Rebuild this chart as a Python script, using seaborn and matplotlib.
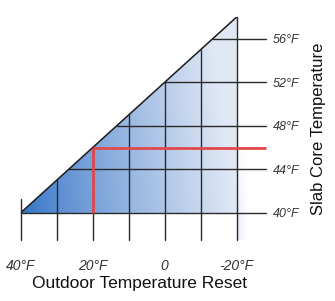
import numpy as np
import matplotlib
matplotlib.use("Agg")
import matplotlib.pyplot as plt
from matplotlib.patches import Polygon
import seaborn as sns
import pandas as pd

sns.set_theme(style="white")
plt.rcParams['font.family'] = ['Liberation Sans', 'DejaVu Sans']

# ---- data ----
outdoor_line = [40, -20]          # outdoor temperature (°F) endpoints of reset line
slab_line = [40, 58]              # slab core temperature (°F) endpoints
grid_outdoor = [40, 30, 20, 10, 0, -10, -20]
grid_slab = [40, 44, 48, 52, 56]
x_tick_vals = [40, 20, 0, -20]
x_tick_labels = ["40°F", "20°F", "0", "-20°F"]
y_tick_vals = [40, 44, 48, 52, 56]
y_tick_labels = ["40°F", "44°F", "48°F", "52°F", "56°F"]
design_outdoor = 20
design_slab = 46

W, H = 335, 301
fig = plt.figure(figsize=(W / 100, H / 100), dpi=100)
ax = fig.add_axes([20.7 / W, (H - 240) / H, (265.5 - 20.7) / W, (240 - 17) / H])
ax.set_xlim(40, -28)
ax.set_ylim(37.5, 58)
xmax_lim = -28
y_bottom = 37.5

def slab_at(x):
    return np.interp(x, outdoor_line[::-1], slab_line[::-1])

def outdoor_at(y):
    return np.interp(y, slab_line, outdoor_line)

# gradient fill clipped to the triangle
nx, ny = 300, 100
t = np.linspace(0, 1, nx)[None, :]
s = np.linspace(0, 1, ny)[:, None]
c0 = np.array([0.20, 0.45, 0.78])
c1 = np.array([0.88, 0.91, 0.96])
tt = np.clip(t ** 0.85 + 0.10 * s, 0, 1)
img = c0[None, None, :] * (1 - tt[..., None]) + c1[None, None, :] * tt[..., None]
tri = Polygon([(outdoor_line[0], slab_line[0]), (outdoor_line[1], slab_line[0]),
               (outdoor_line[1], slab_line[1])], closed=True, facecolor='none',
              edgecolor='none', transform=ax.transData)
ax.add_patch(tri)
im = ax.imshow(img, extent=[outdoor_line[0], outdoor_line[1], slab_line[0], slab_line[1]],
               origin='lower', aspect='auto', interpolation='bilinear', zorder=1)
im.set_clip_path(tri)

# soft drop shadow to the right of the -20 line
sx = np.linspace(0, 1, 60)[None, :]
sy = np.linspace(0, 1, 60)[:, None]
alpha = np.clip((1 - sx) ** 1.5 * np.clip(1.3 - sy, 0, 1) * 0.45, 0, 1)
shadow = np.zeros((60, 60, 4))
shadow[..., 0] = 0.78
shadow[..., 1] = 0.82
shadow[..., 2] = 0.95
shadow[..., 3] = alpha
ax.imshow(shadow, extent=[outdoor_line[1], outdoor_line[1] - 3.5, y_bottom, design_slab - 0.5],
          origin='lower', aspect='auto', interpolation='bilinear', zorder=0.5)

grid_kw = dict(color='#2a2a2a', linewidth=1.0, zorder=3, clip_on=False)
# vertical grid lines
for x in grid_outdoor:
    top = slab_at(x)
    if x == outdoor_line[0]:
        top = top + 1.3
    ax.plot([x, x], [y_bottom, top], **grid_kw)
# horizontal grid lines
for y in grid_slab:
    ax.plot([outdoor_at(y), xmax_lim], [y, y], **grid_kw)

# reset line (hypotenuse)
df = pd.DataFrame({"outdoor": outdoor_line, "slab": slab_line})
sns.lineplot(data=df, x="outdoor", y="slab", ax=ax, color='#1a1a1a', linewidth=1.1,
             zorder=4, sort=False)

# design point lines (red)
red = '#e0484a'
ax.plot([design_outdoor, xmax_lim], [design_slab, design_slab], color=red, linewidth=2.0,
        zorder=5, clip_on=False, solid_capstyle='butt')
ax.plot([design_outdoor, design_outdoor], [slab_line[0], design_slab], color=red,
        linewidth=2.0, zorder=5, solid_capstyle='butt')

# axes styling
for sp in ax.spines.values():
    sp.set_visible(False)
ax.set_facecolor('white')
ax.set_xticks(x_tick_vals)
ax.set_xticklabels(x_tick_labels)
ax.yaxis.tick_right()
ax.yaxis.set_label_position('right')
ax.set_yticks(y_tick_vals)
ax.set_yticklabels(y_tick_labels)
ax.tick_params(axis='x', length=0, pad=14, labelsize=10, labelcolor='#333333')
ax.tick_params(axis='y', length=0, pad=5.5, labelsize=9, labelcolor='#333333')
for lbl in ax.get_xticklabels() + ax.get_yticklabels():
    lbl.set_fontstyle('italic')
ax.set_xlabel("Outdoor Temperature Reset", fontsize=12.5, color='#111111')
ax.set_ylabel("Slab Core Temperature", fontsize=12, color='#111111', labelpad=8,
              rotation=90)
ax.xaxis.set_label_coords((139 - 20.7) / (265.5 - 20.7), -(276 - 240) / (240 - 17))

fig.savefig("out.png", dpi=100, facecolor='white')
